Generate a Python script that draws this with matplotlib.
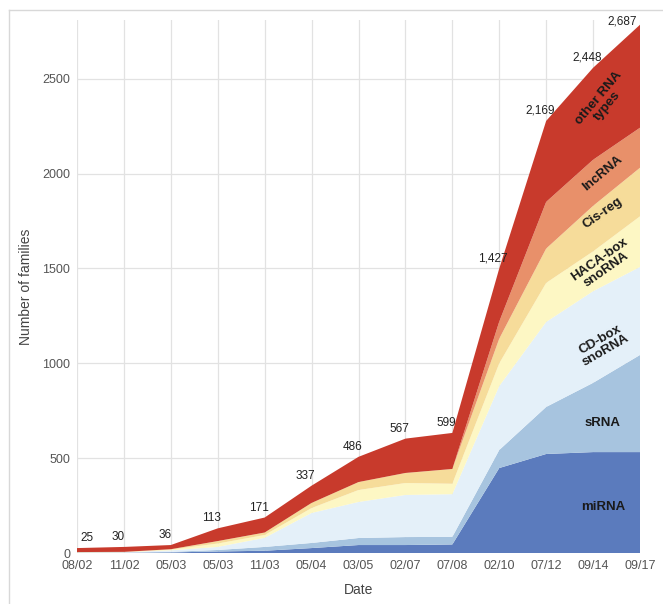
import numpy as np
import matplotlib
matplotlib.use('Agg')
from matplotlib import pyplot as plt
from matplotlib.lines import Line2D

plt.rcParams['font.family'] = ['Liberation Sans', 'DejaVu Sans']

# release dates (x axis) and families per type
dates = ['08/02', '11/02', '05/03', '05/03', '11/03', '05/04', '03/05',
         '02/07', '07/08', '02/10', '07/12', '09/14', '09/17']
mirna = [1, 1, 3, 8, 12, 26, 42, 42, 45, 448, 522, 532, 532]
srna = [1, 1, 3, 8, 20, 27, 37, 42, 40, 95, 248, 365, 512]
cdbox = [1, 2, 8, 16, 48, 158, 190, 222, 225, 337, 448, 483, 464]
hacabox = [1, 1, 4, 18, 15, 26, 63, 63, 55, 120, 206, 210, 267]
cisreg = [1, 1, 2, 13, 13, 27, 42, 53, 78, 130, 181, 240, 256]
lncrna = [0, 0, 0, 0, 0, 0, 0, 0, 0, 90, 246, 243, 211]
other = [21, 26, 22, 67, 79, 91, 133, 181, 190, 280, 427, 485, 543]
totals = ['25', '30', '36', '113', '171', '337', '486', '567', '599',
          '1,427', '2,169', '2,448', '2,687']

colors = ['#5b7bbd', '#a7c4df', '#e4f0f9', '#fdf7c4', '#f6dc9a', '#e8906a', '#c83a2c']

fig = plt.figure(figsize=(6.63, 6.04), dpi=100)
ax = fig.add_axes([77/663, 1-553/604, (640-77)/663, (553-20)/604])

x = np.arange(len(dates))
layers = [mirna, srna, cdbox, hacabox, cisreg, lncrna, other]
ax.stackplot(x, layers, colors=colors, linewidth=0)

ax.set_xlim(0, len(dates)-1)
ax.set_ylim(0, 2810)
ax.set_xticks(x)
ax.set_xticklabels(dates)
ax.set_yticks([0, 500, 1000, 1500, 2000, 2500])
ax.tick_params(length=0, labelsize=9, colors='#555555', pad=5)
ax.grid(True, color='#e2e2e2', linewidth=0.9)
ax.set_axisbelow(True)
for s in ax.spines.values():
    s.set_visible(False)

ax.set_xlabel('Date', fontsize=10, color='#444444', labelpad=8)
ax.set_ylabel('Number of families', fontsize=10, color='#444444')
ax.yaxis.set_label_coords(-0.078, 0.5)

# total labels over each release
top = np.sum(layers, axis=0)
for i, t in enumerate(totals):
    dx, dy = -6, 10
    if i == 0:
        dx = 10
    if i == len(totals) - 1:
        dx, dy = -18, 3
    ax.annotate(t, (x[i], top[i]), xytext=(dx, dy), textcoords='offset pixels',
                ha='center', va='center', fontsize=8.5, color='#222222')

# names of the layers inside the areas
names = [('miRNA', 507, 0), ('sRNA', 423, 0), ('CD-box\nsnoRNA', 345, 30),
         ('HACA-box\nsnoRNA', 265, 35), ('Cis-reg', 213, 35),
         ('lncRNA', 173, 40), ('other RNA\ntypes', 102, 50)]
for name, py, rot in names:
    fig.text(603/663, 1-py/604, name, ha='center', va='center', rotation=rot,
             fontsize=9.5, fontweight='bold', color='#1a1a1a', linespacing=1.0)

# light frame round the chart
fig.add_artist(Line2D([9/663, 9/663], [0, 1-10/604], color='#d8d8d8', lw=1))
fig.add_artist(Line2D([9/663, 1], [1-10/604, 1-10/604], color='#d8d8d8', lw=1))

plt.savefig('out.png', dpi=100)
